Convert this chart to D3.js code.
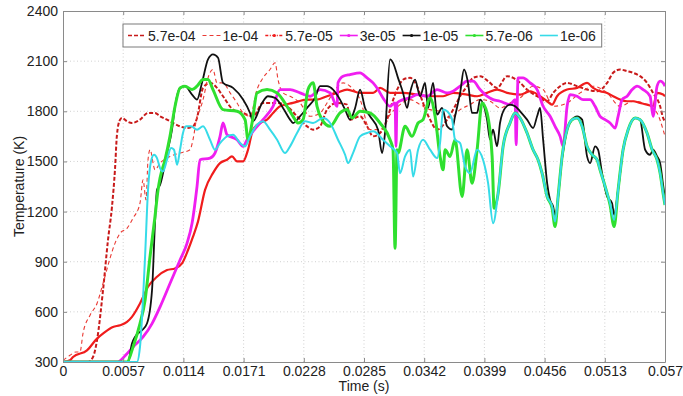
<!DOCTYPE html>
<html>
<head>
<meta charset="utf-8">
<script src="https://cdn.jsdelivr.net/npm/d3@7"></script>
<style>
  body { margin: 0; background: #fff; }
  text { font-family: "Liberation Sans", Arial, sans-serif; }
</style>
</head>
<body>
<div id="vis"></div>
<script>
// series names, legend order
const seriesNames = ["5.7e-04", "1e-04", "5.7e-05", "3e-05", "1e-05", "5.7e-06", "1e-06"];

// [time (s), temperature (K)]
const s5_7e04 = [[0,300],[0.00237,300],[0.00284,330],[0.00322,430],[0.00379,730],[0.00426,1030],[0.00464,1230],[0.00492,1450],[0.00511,1660],[0.0054,1750],[0.00559,1760],[0.00606,1740],[0.00653,1730],[0.00729,1750],[0.00805,1790],[0.00871,1790],[0.00919,1770],[0.00985,1750],[0.01042,1730],[0.01108,1710],[0.01174,1700],[0.01231,1710],[0.01269,1760],[0.01326,1940],[0.01392,1970],[0.01458,1940],[0.01515,1890],[0.0161,1810],[0.01705,1790],[0.01799,1770],[0.01894,1850],[0.02027,1850],[0.02121,1830],[0.02216,1770],[0.02311,1710],[0.02368,1690],[0.02434,1710],[0.025,1810],[0.02595,1850],[0.0269,1840],[0.02718,1750],[0.02813,1770],[0.02879,1710],[0.02936,1650],[0.03002,1670],[0.03068,1750],[0.03116,1850],[0.03172,1940],[0.0322,1990],[0.03286,2000],[0.03352,1950],[0.03409,1850],[0.03476,1750],[0.03542,1690],[0.03637,1750],[0.03712,1830],[0.0376,1890],[0.03826,1950],[0.03883,2000],[0.03949,2010],[0.04025,1980],[0.0411,1940],[0.04205,2010],[0.04262,2000],[0.04328,1970],[0.04394,1930],[0.04489,1890],[0.04584,1860],[0.04641,1910],[0.04707,1950],[0.04773,1970],[0.04868,1950],[0.04962,1930],[0.05057,1920],[0.05152,1970],[0.05209,2030],[0.05275,2050],[0.05341,2040],[0.05398,2030],[0.05464,2010],[0.0553,1970],[0.05587,1910],[0.05654,1830],[0.05682,1760],[0.057,1740]];

const s1e04 = [[0,310],[0.00066,340],[0.00123,360],[0.00161,360],[0.00189,470],[0.00256,580],[0.00322,650],[0.00379,770],[0.00445,920],[0.00492,1010],[0.0054,1070],[0.00606,1100],[0.00663,1160],[0.00729,1250],[0.00758,1390],[0.00786,1270],[0.00805,1510],[0.00824,1570],[0.00871,1450],[0.00919,1490],[0.01013,1530],[0.01108,1550],[0.01203,1570],[0.01231,1630],[0.01269,1770],[0.01297,1810],[0.01326,1870],[0.01373,2000],[0.0142,2050],[0.01458,1970],[0.01515,1970],[0.01582,1910],[0.01648,1850],[0.01705,1790],[0.01771,1770],[0.01837,1930],[0.01894,2000],[0.0196,2050],[0.02008,2090],[0.02036,1990],[0.02083,1910],[0.0215,1890],[0.02244,1850],[0.02339,1770],[0.02434,1790],[0.025,1850],[0.02557,1910],[0.02652,1970],[0.02718,1950],[0.02813,1870],[0.02907,1690],[0.03002,1690],[0.03097,1780],[0.03191,1840],[0.03286,1870],[0.03381,1840],[0.03476,1810],[0.0357,1800],[0.03665,1760],[0.0376,1810],[0.03854,1840],[0.03949,1870],[0.04044,1860],[0.04138,1820],[0.04233,1850],[0.04328,1880],[0.04451,1950],[0.04546,1930],[0.04641,1830],[0.04773,1850],[0.04896,1910],[0.05019,1950],[0.05152,1910],[0.05275,1830],[0.05398,1860],[0.0553,1840],[0.05625,1790],[0.05682,1690],[0.057,1650]];

const s5_7e05 = [[0,300],[0.00066,310],[0.00095,330],[0.00227,370],[0.00322,440],[0.00379,470],[0.00473,510],[0.0054,520],[0.00606,540],[0.00653,570],[0.00729,650],[0.00805,750],[0.0089,810],[0.00985,850],[0.01061,860],[0.01127,890],[0.01184,970],[0.01231,1050],[0.01278,1140],[0.01345,1330],[0.0142,1430],[0.01487,1490],[0.01553,1510],[0.016,1530],[0.01648,1500],[0.01705,1500],[0.01752,1570],[0.01799,1690],[0.01866,1730],[0.01932,1750],[0.01989,1790],[0.02055,1830],[0.02178,1850],[0.02311,1870],[0.02405,1870],[0.025,1890],[0.02595,1910],[0.0269,1930],[0.02813,1910],[0.02936,1910],[0.03002,1940],[0.03097,1910],[0.0322,1910],[0.03352,1900],[0.03476,1890],[0.03599,1890],[0.03693,1910],[0.03826,1900],[0.03921,1890],[0.04015,1910],[0.0411,1930],[0.04205,1910],[0.04328,1900],[0.04423,1920],[0.04517,1890],[0.04584,1860],[0.04631,1840],[0.04678,1890],[0.04773,1930],[0.04868,1940],[0.04962,1970],[0.05019,1940],[0.05085,1920],[0.05152,1910],[0.05209,1890],[0.05275,1870],[0.05341,1860],[0.05398,1860],[0.05464,1850],[0.0553,1840],[0.05587,1830],[0.05625,1910],[0.05682,1900],[0.057,1890]];

const s3e05 = [[0,300],[0.00511,300],[0.00606,350],[0.00663,390],[0.00758,450],[0.00843,530],[0.00919,630],[0.01013,770],[0.01108,910],[0.01174,1010],[0.01222,1130],[0.01269,1350],[0.01297,1510],[0.01392,1520],[0.01439,1550],[0.01487,1650],[0.01515,1730],[0.01553,1660],[0.01648,1630],[0.01705,1590],[0.01743,1630],[0.01799,1680],[0.01894,1750],[0.01989,1830],[0.02055,1930],[0.0215,1930],[0.02244,1910],[0.02339,1890],[0.02434,1930],[0.02529,1910],[0.02595,1830],[0.02604,1970],[0.02652,2010],[0.02718,2020],[0.02813,2030],[0.02879,2000],[0.02936,1970],[0.02983,1930],[0.0303,1880],[0.03097,1830],[0.03144,1850],[0.03153,1590],[0.03163,1850],[0.0322,1870],[0.03286,1880],[0.03352,1900],[0.03447,1890],[0.03542,1930],[0.03637,1910],[0.03693,1920],[0.0376,1950],[0.03826,1980],[0.03883,1980],[0.03949,1930],[0.04015,1890],[0.04072,1870],[0.04138,1860],[0.04233,1840],[0.04281,1870],[0.0429,1600],[0.04309,2000],[0.04356,2000],[0.04423,1970],[0.04489,1930],[0.04546,1830],[0.04612,1770],[0.04659,1710],[0.04707,1650],[0.04735,1590],[0.04773,1830],[0.04801,1900],[0.04868,1890],[0.04924,1870],[0.04991,1870],[0.05038,1830],[0.05085,1770],[0.05133,1750],[0.0518,1730],[0.05228,1700],[0.05256,1770],[0.05294,1870],[0.05341,1890],[0.05389,1930],[0.05436,1950],[0.05493,1930],[0.05559,1890],[0.05587,1770],[0.05625,1950],[0.05654,1980],[0.05682,1970],[0.057,1950]];

const s1e05 = [[0,300],[0.00616,300],[0.00653,410],[0.00682,450],[0.00748,490],[0.00795,530],[0.00843,730],[0.00871,1130],[0.0089,1330],[0.00919,1360],[0.00985,1550],[0.01032,1690],[0.01061,1830],[0.01108,1940],[0.01155,1950],[0.01222,1900],[0.01269,1870],[0.01316,1970],[0.01373,2110],[0.0142,2140],[0.01468,2120],[0.01515,1970],[0.0161,1940],[0.01705,1870],[0.01771,1790],[0.01799,1740],[0.01885,1850],[0.01941,1890],[0.02008,1880],[0.02083,1820],[0.0215,1750],[0.02178,1730],[0.02244,1770],[0.02311,1820],[0.02386,1880],[0.02434,1950],[0.025,1950],[0.02557,1930],[0.02623,1870],[0.02671,1810],[0.02718,1750],[0.02766,1820],[0.02813,1930],[0.0286,1820],[0.02907,1770],[0.02983,1690],[0.03021,1550],[0.03049,1670],[0.03097,2110],[0.03125,2090],[0.03172,2000],[0.0322,1910],[0.03258,1820],[0.03286,1910],[0.03333,1990],[0.03381,1890],[0.03428,1970],[0.03457,1820],[0.03504,1970],[0.03542,1780],[0.03589,1820],[0.03637,1710],[0.03684,1690],[0.03712,1770],[0.0376,1910],[0.03797,2050],[0.03835,1970],[0.03873,1790],[0.03921,1790],[0.03949,1870],[0.04015,1750],[0.04044,1630],[0.04072,1690],[0.0411,1590],[0.04138,1730],[0.04186,1820],[0.04233,1840],[0.04281,1830],[0.04328,1800],[0.04394,1750],[0.04451,1700],[0.04489,1770],[0.04517,1820],[0.04546,1630],[0.04584,1370],[0.04612,1270],[0.04641,1230],[0.04659,1180],[0.04726,1520],[0.04773,1690],[0.0482,1750],[0.04868,1770],[0.04915,1750],[0.04962,1530],[0.04991,1490],[0.05038,1590],[0.05066,1570],[0.05104,1430],[0.05152,1290],[0.05199,1250],[0.05218,1180],[0.05256,1330],[0.05303,1570],[0.05351,1690],[0.05417,1760],[0.05464,1750],[0.05512,1570],[0.05559,1540],[0.05587,1570],[0.05625,1530],[0.05654,1490],[0.05682,1360],[0.057,1280]];

const s5_7e06 = [[0,300],[0.00606,300],[0.00663,390],[0.00729,530],[0.00777,670],[0.00824,930],[0.00871,1170],[0.009,1330],[0.00919,1400],[0.00966,1510],[0.01013,1650],[0.01061,1830],[0.01108,1940],[0.01155,1950],[0.01222,1930],[0.01269,1950],[0.01326,1990],[0.01373,1990],[0.0142,1930],[0.01515,1810],[0.01648,1800],[0.01724,1750],[0.01752,1630],[0.0179,1730],[0.01837,1910],[0.01932,1930],[0.02027,1910],[0.02121,1830],[0.02178,1770],[0.02225,1730],[0.02273,1750],[0.0232,1930],[0.02368,1970],[0.02405,1830],[0.02452,1750],[0.02529,1710],[0.02623,1790],[0.0269,1810],[0.02737,1760],[0.02813,1800],[0.02907,1790],[0.03002,1730],[0.03097,1630],[0.03125,1570],[0.03144,980],[0.03163,1570],[0.03172,1550],[0.03239,1710],[0.03305,1650],[0.03362,1730],[0.03409,1750],[0.03476,1880],[0.03523,1770],[0.0357,1530],[0.03599,1450],[0.03618,1570],[0.03665,1530],[0.03712,1630],[0.03779,1290],[0.03826,1570],[0.03873,1370],[0.03921,1570],[0.03968,1850],[0.04015,1790],[0.04063,1530],[0.04082,1220],[0.0412,1310],[0.04167,1590],[0.04233,1730],[0.04281,1790],[0.04328,1760],[0.04394,1670],[0.04451,1570],[0.04498,1510],[0.04536,1430],[0.04584,1290],[0.04631,1220],[0.04659,1110],[0.04688,1290],[0.04726,1530],[0.04773,1690],[0.0482,1750],[0.04868,1760],[0.04915,1710],[0.04962,1590],[0.0501,1540],[0.05057,1510],[0.05085,1450],[0.05133,1350],[0.0518,1240],[0.05218,1110],[0.05256,1330],[0.05303,1570],[0.05351,1690],[0.05417,1760],[0.05464,1750],[0.0553,1670],[0.05578,1570],[0.05625,1510],[0.05654,1430],[0.05682,1310],[0.057,1240]];

const s1e06 = [[0,300],[0.0070,300],[0.00729,390],[0.00777,930],[0.00805,1330],[0.00833,1500],[0.00862,1540],[0.0089,1520],[0.00919,1460],[0.00947,1440],[0.00985,1510],[0.01023,1580],[0.01051,1570],[0.0108,1480],[0.01108,1570],[0.01136,1670],[0.01165,1710],[0.01212,1710],[0.01269,1690],[0.01326,1710],[0.01392,1630],[0.01439,1570],[0.01487,1610],[0.01553,1650],[0.0161,1660],[0.01676,1610],[0.01724,1590],[0.01771,1650],[0.01837,1720],[0.01894,1740],[0.0196,1690],[0.02027,1630],[0.02102,1550],[0.0215,1590],[0.02216,1670],[0.02292,1740],[0.02368,1730],[0.02462,1760],[0.02529,1730],[0.02604,1630],[0.02671,1540],[0.02699,1490],[0.02746,1550],[0.02813,1650],[0.02879,1670],[0.02936,1680],[0.0303,1630],[0.03097,1590],[0.03163,1550],[0.03191,1430],[0.03239,1530],[0.03286,1570],[0.03315,1410],[0.03362,1570],[0.03409,1630],[0.03476,1570],[0.03542,1520],[0.0357,1610],[0.03599,1810],[0.03637,1800],[0.03684,1750],[0.03712,1630],[0.0376,1610],[0.03807,1470],[0.03854,1430],[0.03921,1570],[0.03977,1510],[0.04025,1370],[0.04072,1130],[0.0412,1310],[0.04167,1590],[0.04233,1730],[0.04281,1790],[0.04328,1760],[0.04394,1670],[0.04451,1570],[0.04498,1510],[0.04536,1430],[0.04584,1290],[0.04631,1230],[0.04659,1140],[0.04688,1290],[0.04726,1530],[0.04773,1690],[0.0482,1750],[0.04868,1760],[0.04915,1710],[0.04962,1590],[0.0501,1540],[0.05057,1510],[0.05085,1450],[0.05133,1350],[0.0518,1250],[0.05218,1150],[0.05256,1330],[0.05303,1570],[0.05351,1690],[0.05417,1760],[0.05464,1750],[0.0553,1670],[0.05578,1570],[0.05625,1510],[0.05654,1430],[0.05682,1310],[0.057,1240]];

const xTicks = [0, 0.0057, 0.0114, 0.0171, 0.0228, 0.0285, 0.0342, 0.0399, 0.0456, 0.0513, 0.057];
const xTickLabels = ["0", "0.0057", "0.0114", "0.0171", "0.0228", "0.0285", "0.0342", "0.0399", "0.0456", "0.0513", "0.057"];
const yTicks = [300, 600, 900, 1200, 1500, 1800, 2100, 2400];

// line styles (not data)
const styles = [
  {color: "#c81a1a", width: 2.0, dash: "4,2", marker: false},
  {color: "#ea3a34", width: 1.1, dash: "4,3", marker: false},
  {color: "#f01c1c", width: 2.2, dash: null, marker: true},
  {color: "#f01ef0", width: 2.8, dash: null, marker: true},
  {color: "#111111", width: 1.8, dash: null, marker: true},
  {color: "#2fe02f", width: 3.0, dash: null, marker: true},
  {color: "#36dbe8", width: 2.0, dash: null, marker: false}
];
const allSeries = [s5_7e04, s1e04, s5_7e05, s3e05, s1e05, s5_7e06, s1e06];

const width = 683, height = 396;
const plot = {left: 63, right: 665, top: 11, bottom: 362};

const svg = d3.select("#vis").append("svg")
    .attr("width", width)
    .attr("height", height);

const x = d3.scaleLinear().domain([0, 0.057]).range([plot.left, plot.right]);
const y = d3.scaleLinear().domain([300, 2400]).range([plot.bottom, plot.top]);

// dotted grid
const grid = svg.append("g").attr("class", "grid");
grid.selectAll(".gx").data(xTicks.slice(1, -1)).enter().append("line")
    .attr("x1", d => x(d)).attr("x2", d => x(d))
    .attr("y1", plot.top).attr("y2", plot.bottom)
    .attr("stroke", "#c4c4c4").attr("stroke-width", 0.8).attr("stroke-dasharray", "1,2.5");
grid.selectAll(".gy").data(yTicks.slice(1, -1)).enter().append("line")
    .attr("x1", plot.left).attr("x2", plot.right)
    .attr("y1", d => y(d)).attr("y2", d => y(d))
    .attr("stroke", "#c4c4c4").attr("stroke-width", 0.8).attr("stroke-dasharray", "1,2.5");

// curves
const line = d3.line()
    .x(d => x(d[0]))
    .y(d => y(d[1]))
    .curve(d3.curveMonotoneX);

svg.append("clipPath").attr("id", "clip").append("rect")
    .attr("x", plot.left).attr("y", plot.top)
    .attr("width", plot.right - plot.left).attr("height", plot.bottom - plot.top);

const lines = svg.append("g").attr("clip-path", "url(#clip)");
allSeries.forEach(function (s, i) {
    lines.append("path")
        .datum(s)
        .attr("fill", "none")
        .attr("stroke", styles[i].color)
        .attr("stroke-width", styles[i].width)
        .attr("stroke-dasharray", styles[i].dash)
        .attr("stroke-linejoin", "round")
        .attr("d", line);
});

// axes, ticks pointing inward like matlab
const axisColor = "#8a8a8a";
function styleAxis(g) {
    g.select(".domain").attr("stroke", axisColor);
    g.selectAll(".tick line").attr("stroke", axisColor);
    g.selectAll(".tick text").attr("fill", "#222").style("font-size", "14px");
}
svg.append("g")
    .attr("transform", `translate(0,${plot.bottom})`)
    .call(d3.axisBottom(x).tickValues(xTicks).tickFormat((d, i) => xTickLabels[i])
        .tickSizeInner(-4).tickSizeOuter(0).tickPadding(4))
    .call(styleAxis);
svg.append("g")
    .attr("transform", `translate(${plot.left},0)`)
    .call(d3.axisLeft(y).tickValues(yTicks).tickFormat(d3.format("d"))
        .tickSizeInner(-4).tickSizeOuter(0).tickPadding(5))
    .call(styleAxis);
svg.append("g")
    .attr("transform", `translate(0,${plot.top})`)
    .call(d3.axisTop(x).tickValues(xTicks).tickFormat("").tickSizeInner(-4).tickSizeOuter(0))
    .call(styleAxis);
svg.append("g")
    .attr("transform", `translate(${plot.right},0)`)
    .call(d3.axisRight(y).tickValues(yTicks).tickFormat("").tickSizeInner(-4).tickSizeOuter(0))
    .call(styleAxis);

// axis titles
svg.append("text")
    .attr("x", (plot.left + plot.right) / 2).attr("y", 391)
    .attr("text-anchor", "middle")
    .style("font-size", "14px").attr("fill", "#222")
    .text("Time (s)");
svg.append("text")
    .attr("transform", `translate(24,${(plot.top + plot.bottom) / 2}) rotate(-90)`)
    .attr("text-anchor", "middle")
    .style("font-size", "14px").attr("fill", "#222")
    .text("Temperature (K)");

// legend
const legend = svg.append("g");
const legendBox = legend.append("rect")
    .attr("x", 123).attr("y", 24).attr("height", 23)
    .attr("fill", "#fff").attr("stroke", "#7a7a7a").attr("stroke-width", 1);
let lx = 128;
const ly = 35.5;
seriesNames.forEach(function (name, i) {
    const st = styles[i];
    legend.append("line")
        .attr("x1", lx).attr("x2", lx + 18)
        .attr("y1", ly).attr("y2", ly)
        .attr("stroke", st.color)
        .attr("stroke-width", Math.min(st.width, 1.6))
        .attr("stroke-dasharray", i === 2 ? "3,1.5,1,1.5" : st.dash);
    if (st.marker) {
        legend.append("circle")
            .attr("cx", lx + 9).attr("cy", ly).attr("r", 1.6)
            .attr("fill", st.color);
    }
    const t = legend.append("text")
        .attr("x", lx + 20).attr("y", ly + 5)
        .style("font-size", "14px").attr("fill", "#222")
        .text(name);
    lx += 20 + t.node().getComputedTextLength() + 7;
});
legendBox.attr("width", lx - 7 + 6 - 123);
</script>
</body>
</html>
